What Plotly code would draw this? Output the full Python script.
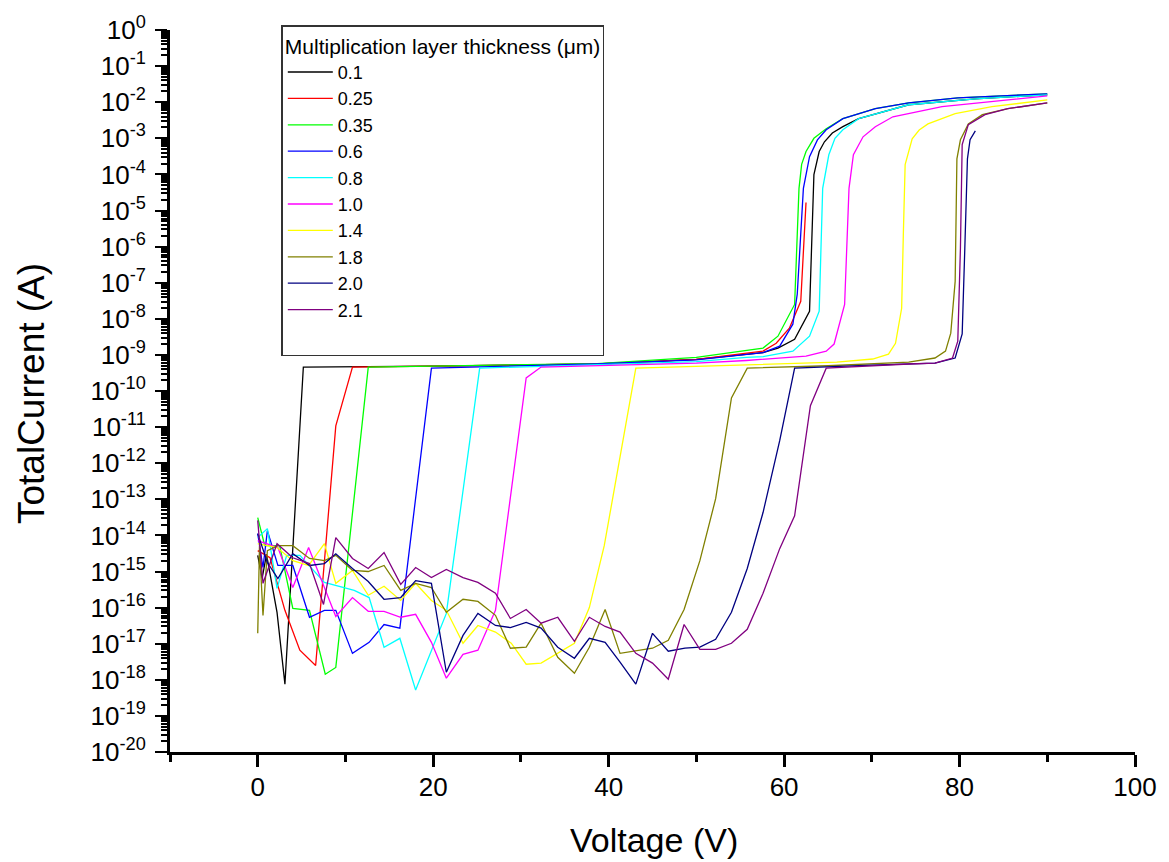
import plotly.graph_objects as go

# ---------------- data ----------------
thickness = ["0.1", "0.25", "0.35", "0.6", "0.8", "1.0", "1.4", "1.8", "2.0", "2.1"]
colors = ["#000000", "#FF0000", "#00FF00", "#0000FF", "#00FFFF",
          "#FF00FF", "#FFFF00", "#808000", "#000080", "#800080"]

v_01 = [0, 0.5, 1.0, 2.2, 3.1, 5.2, 20, 38.7, 50, 55.7, 57.6, 59.3, 61.2, 62.9, 63.4, 64.0, 64.6, 65.5, 66.7, 68.5,
        74.2, 81.8, 90]
i_01 = [2.8e-15, 6.4e-16, 3.0e-15, 7.4e-17, 7.6e-19, 4.6e-10, 4.9e-10, 5.6e-10, 7.5e-10, 1.0e-9, 1.15e-9, 1.54e-9,
        2.7e-9, 1.62e-8, 9.9e-5, 4.3e-4, 8.0e-4, 1.4e-3, 2.1e-3, 3.5e-3, 8.5e-3, 1.24e-2, 1.6e-2]

v_025 = [0, 1.4, 3.1, 4.8, 6.6, 8.9, 10.8, 20, 38.7, 50, 55.7, 57.6, 59.1, 60.6, 61.9, 62.5]
i_025 = [3.8e-15, 2.4e-15, 8.4e-17, 6.6e-18, 2.5e-18, 1.08e-11, 4.6e-10, 4.9e-10, 5.6e-10, 7.5e-10, 1.15e-9,
         1.27e-9, 2.1e-9, 5.5e-9, 3.06e-8, 1.66e-5]

v_035 = [0, 0.8, 2.5, 4.0, 5.9, 7.7, 8.9, 12.6, 20, 38.7, 50, 55.7, 57.6, 59.3, 61.2, 61.7, 62.0, 62.5, 63.4,
         64.8, 66.7, 70.4, 74.2, 79.8, 90]
i_035 = [3.1e-14, 5.2e-15, 5.2e-15, 9.5e-17, 8.4e-17, 1.43e-18, 2.2e-18, 4.6e-10, 4.9e-10, 5.7e-10, 8.5e-10,
         1.3e-9, 1.55e-9, 3.3e-9, 2.5e-8, 4.1e-5, 1.9e-4, 4.3e-4, 1.0e-3, 1.84e-3, 3.5e-3, 6.6e-3, 9.6e-3,
         1.32e-2, 1.7e-2]

v_06 = [0, 0.6, 1.1, 2.3, 4.0, 5.9, 7.6, 8.9, 10.8, 12.7, 14.4, 16.2, 19.8, 38.7, 50, 55.7, 57.6, 59.5, 61.0,
        61.5, 62.2, 62.9, 63.8, 64.8, 66.7, 70.4, 74.2, 79.8, 90]
i_06 = [1.12e-14, 1.29e-15, 1.36e-14, 1.47e-15, 1.47e-15, 5.4e-17, 8.4e-17, 8.4e-17, 5.4e-18, 1.09e-17, 3.4e-17,
        2.7e-17, 4.3e-10, 5.6e-10, 7.3e-10, 1.05e-9, 1.15e-9, 1.75e-9, 7.1e-9, 4.8e-8, 4.1e-5, 3.1e-4, 9.0e-4,
        1.73e-3, 3.5e-3, 6.6e-3, 9.6e-3, 1.32e-2, 1.7e-2]

v_08 = [0, 1.1, 2.2, 3.3, 4.8, 7.6, 11.0, 12.7, 14.4, 16.2, 18.0, 21.5, 25.3, 38.7, 50, 55.7, 57.6, 61.0, 62.9,
        64.0, 64.4, 65.1, 65.8, 66.7, 68.5, 74.2, 81.8, 90]
i_08 = [8.7e-15, 1.54e-14, 3.4e-16, 2.8e-15, 2.8e-15, 5.0e-16, 3.0e-16, 1.9e-16, 8.0e-18, 1.41e-17, 5.2e-19,
        6.9e-17, 4.3e-10, 5.3e-10, 6.5e-10, 8.5e-10, 9.0e-10, 1.27e-9, 3.3e-9, 1.62e-8, 4.1e-5, 3.5e-4, 1.0e-3,
        1.73e-3, 3.5e-3, 8.5e-3, 1.24e-2, 1.6e-2]

v_10 = [0, 2.3, 4.0, 5.8, 8.9, 10.8, 12.6, 14.4, 16.3, 18.0, 19.8, 21.5, 23.4, 25.1, 27.1, 30.6, 32.3, 38.7, 50,
        55.7, 59.1, 62.5, 64.8, 65.7, 66.9, 67.4, 67.9, 69.0, 70.4, 72.4, 78.0, 90]
i_10 = [7.2e-15, 4.6e-15, 3.6e-16, 4.6e-15, 5.7e-17, 1.9e-16, 7.9e-17, 7.9e-17, 5.4e-17, 6.5e-17, 1.09e-17,
        1.11e-18, 5.1e-18, 6.6e-18, 8.4e-17, 2.3e-10, 4.6e-10, 5.0e-10, 5.9e-10, 7.0e-10, 8.0e-10, 9.3e-10,
        1.27e-9, 2.0e-9, 2.5e-8, 4.1e-5, 3.5e-4, 1.1e-3, 2.1e-3, 3.95e-3, 7.5e-3, 1.5e-2]

v_14 = [0, 2.2, 4.0, 5.8, 7.6, 8.9, 10.8, 12.6, 14.4, 16.3, 18.0, 19.8, 21.5, 23.4, 25.1, 27.1, 28.9, 30.6, 32.3,
        34.2, 36.1, 37.8, 39.5, 43.1, 55, 62, 66, 70.1, 71.9, 72.7, 73.4, 73.6, 73.8, 74.6, 75.4, 76.4, 79.5, 83.7, 90]
i_14 = [5.9e-15, 4.6e-15, 2.0e-15, 1.47e-15, 5.9e-15, 4.7e-16, 1.07e-15, 2.2e-16, 3.9e-16, 1.58e-16, 4.7e-16,
        1.58e-16, 8.4e-17, 1.03e-17, 3.2e-17, 2.1e-17, 1.03e-17, 2.7e-18, 2.9e-18, 5.4e-18, 1.03e-17, 1.0e-16,
        5.2e-15, 4.3e-10, 5.3e-10, 5.9e-10, 6.3e-10, 7.7e-10, 1.05e-9, 2.1e-9, 1.96e-8, 2.6e-6, 1.87e-4, 9.7e-4,
        1.7e-3, 2.5e-3, 4.8e-3, 7.5e-3, 1.16e-2]

v_18 = [0, 0.2, 0.6, 1.1, 2.3, 4.0, 5.9, 7.6, 8.9, 10.8, 12.6, 14.4, 16.3, 18.0, 19.8, 21.5, 23.4, 25.1, 27.1,
        28.8, 30.6, 32.3, 34.2, 36.1, 37.8, 39.6, 41.3, 43.1, 45.0, 46.8, 48.6, 50.4, 52.2, 54.0, 55.8, 65, 74.2,
        77.2, 78.4, 79.0, 79.5, 79.7, 80.1, 81.0, 82.6, 85.5, 90]
i_18 = [1.94e-17, 5.2e-15, 6.1e-17, 3.8e-15, 5.2e-15, 5.2e-15, 2.3e-15, 2.0e-15, 2.8e-15, 1.07e-15, 1.0e-15,
        1.47e-15, 3.0e-16, 4.7e-16, 3.6e-16, 7.4e-17, 1.7e-16, 1.48e-16, 6.1e-17, 7.5e-18, 8.0e-18, 3.7e-17,
        4.2e-18, 1.52e-18, 8.0e-18, 8.9e-17, 5.4e-18, 6.2e-18, 7.5e-18, 1.24e-17, 8.9e-17, 2.0e-15, 1.04e-13,
        6.4e-11, 4.3e-10, 5.0e-10, 6.3e-10, 8.2e-10, 1.27e-9, 4.0e-9, 1.09e-7, 2.7e-4, 9.1e-4, 2.5e-3, 4.5e-3,
        6.6e-3, 9.6e-3]

v_20 = [0, 1.1, 2.3, 4.0, 5.9, 7.6, 8.9, 10.8, 12.6, 14.4, 16.3, 18.0, 19.8, 21.5, 23.4, 25.1, 27.1, 28.8, 30.6,
        32.3, 34.2, 36.1, 37.8, 39.6, 41.3, 43.1, 45.0, 46.8, 48.7, 50.4, 52.2, 54.0, 55.8, 57.6, 59.5, 61.2, 70,
        77.2, 79.5, 80.3, 80.6, 80.9, 81.2, 81.8]
i_20 = [1.12e-14, 1.77e-15, 6.4e-16, 3.1e-15, 1.47e-15, 1.66e-15, 3.1e-15, 1.21e-15, 5.3e-16, 1.7e-16, 1.9e-16,
        5.6e-16, 4.7e-16, 1.62e-18, 1.7e-17, 6.9e-17, 3.2e-17, 2.8e-17, 3.9e-17, 2.7e-17, 8.0e-18, 3.95e-18,
        1.41e-17, 1.09e-17, 3.1e-18, 7.6e-19, 1.94e-17, 6.2e-18, 7.5e-18, 8.0e-18, 1.32e-17, 7.4e-17, 1.21e-15,
        4.3e-14, 4.2e-12, 4.3e-10, 5.2e-10, 5.9e-10, 8.2e-10, 3.8e-9, 8.9e-7, 2.7e-4, 9.1e-4, 1.6e-3]

v_21 = [0, 0.6, 2.2, 4.0, 5.9, 7.5, 8.9, 10.8, 12.6, 14.4, 16.3, 18.0, 19.8, 21.5, 23.4, 25.1, 27.1, 28.8, 30.6,
        32.3, 34.2, 36.1, 37.8, 39.6, 41.3, 43.1, 45.0, 46.8, 48.6, 50.4, 52.2, 54.0, 55.8, 57.6, 59.5, 61.2, 63.0,
        64.8, 74.2, 77.2, 79.2, 79.8, 80.1, 80.3, 81.0, 82.9, 85.5, 90]
i_21 = [2.6e-14, 4.7e-16, 5.9e-15, 2.4e-15, 1.66e-15, 1.22e-16, 8.7e-15, 2.3e-15, 1.21e-15, 3.35e-15, 4.4e-16,
        1.29e-15, 6.8e-16, 1.14e-15, 6.8e-16, 5.0e-16, 2.5e-16, 5.0e-17, 8.9e-17, 3.7e-17, 5.4e-17, 1.16e-17,
        5.4e-17, 3.0e-17, 2.1e-17, 5.4e-18, 2.9e-18, 1.04e-18, 3.4e-17, 7.0e-18, 7.0e-18, 1.03e-17, 2.5e-17,
        2.5e-16, 4.3e-15, 3.5e-14, 3.9e-11, 4.3e-10, 5.6e-10, 5.9e-10, 8.2e-10, 2.4e-9, 8.9e-7, 6.7e-4, 2.4e-3,
        4.5e-3, 6.6e-3, 9.6e-3]

voltages = [v_01, v_025, v_035, v_06, v_08, v_10, v_14, v_18, v_20, v_21]
currents = [i_01, i_025, i_035, i_06, i_08, i_10, i_14, i_18, i_20, i_21]

y_exponents = list(range(-20, 1))
x_ticks = [0, 20, 40, 60, 80, 100]

# ---------------- figure ----------------
FONT = "Liberation Sans, Arial, Helvetica, sans-serif"
fig = go.Figure()
for name, col, vx, iy in zip(thickness, colors, voltages, currents):
    fig.add_trace(go.Scatter(x=vx, y=iy, mode="lines", name=name,
                             line=dict(color=col, width=1.3)))
# blank row so the legend box keeps the reference's empty bottom space
fig.add_trace(go.Scatter(x=[None], y=[None], mode="lines", name=" ",
                         line=dict(color="rgba(0,0,0,0)", width=1), hoverinfo="skip"))

minor_y = [k * 10.0 ** e for e in y_exponents[:-1] for k in range(2, 10)]

fig.update_layout(
    width=1169, height=862,
    margin=dict(l=170, r=28, t=28, b=110),
    paper_bgcolor="white", plot_bgcolor="rgba(0,0,0,0)",
    font=dict(family=FONT, color="black"),
    showlegend=True,
    legend=dict(
        x=(282 - 170) / 971, y=1 + 5 / 724, xanchor="left", yanchor="top",
        bgcolor="white", bordercolor="#333333", borderwidth=1.5,
        font=dict(size=18, family=FONT, color="black"),
        title=dict(text="Multiplication layer thickness (\u03bcm)", font=dict(size=21, family=FONT)),
        tracegroupgap=0, itemwidth=45,
    ),
    xaxis=dict(
        range=[-10, 100], showgrid=False, zeroline=False,
        showline=True, linecolor="black", linewidth=3,
        ticks="outside", ticklen=12, tickwidth=3, tickcolor="black",
        tickmode="array", tickvals=x_ticks, ticktext=[str(t) for t in x_ticks],
        tickfont=dict(size=26, family=FONT, color="black"),
        minor=dict(ticks="outside", ticklen=7, tickwidth=3, tickcolor="black",
                   tickmode="linear", tick0=-10, dtick=10, showgrid=False),
        ticklabelstandoff=-2,
    ),
    yaxis=dict(
        type="log", range=[-20, 0], showgrid=False, zeroline=False,
        showline=True, linecolor="black", linewidth=3,
        ticks="outside", ticklen=12, tickwidth=2, tickcolor="black",
        tickmode="array", tickvals=[10.0 ** e for e in y_exponents],
        ticktext=[f"10<sup>{e}</sup>" for e in y_exponents],
        tickfont=dict(size=26, family=FONT, color="black"),
        minor=dict(ticks="outside", ticklen=6, tickwidth=1.5, tickcolor="black",
                   tickmode="array", tickvals=minor_y, showgrid=False),
        ticklabelstandoff=4,
    ),
    annotations=[
        dict(text="Voltage (V)", xref="paper", yref="paper", x=0.502, y=-0.1215,
             xanchor="center", yanchor="middle", showarrow=False,
             font=dict(size=34, family=FONT, color="black")),
        dict(text="TotalCurrent (A)", xref="paper", yref="paper", x=-0.1442, y=0.497,
             xanchor="center", yanchor="middle", textangle=-90, showarrow=False,
             font=dict(size=37, family=FONT, color="black")),
    ],
)

fig.write_html("out.html")
